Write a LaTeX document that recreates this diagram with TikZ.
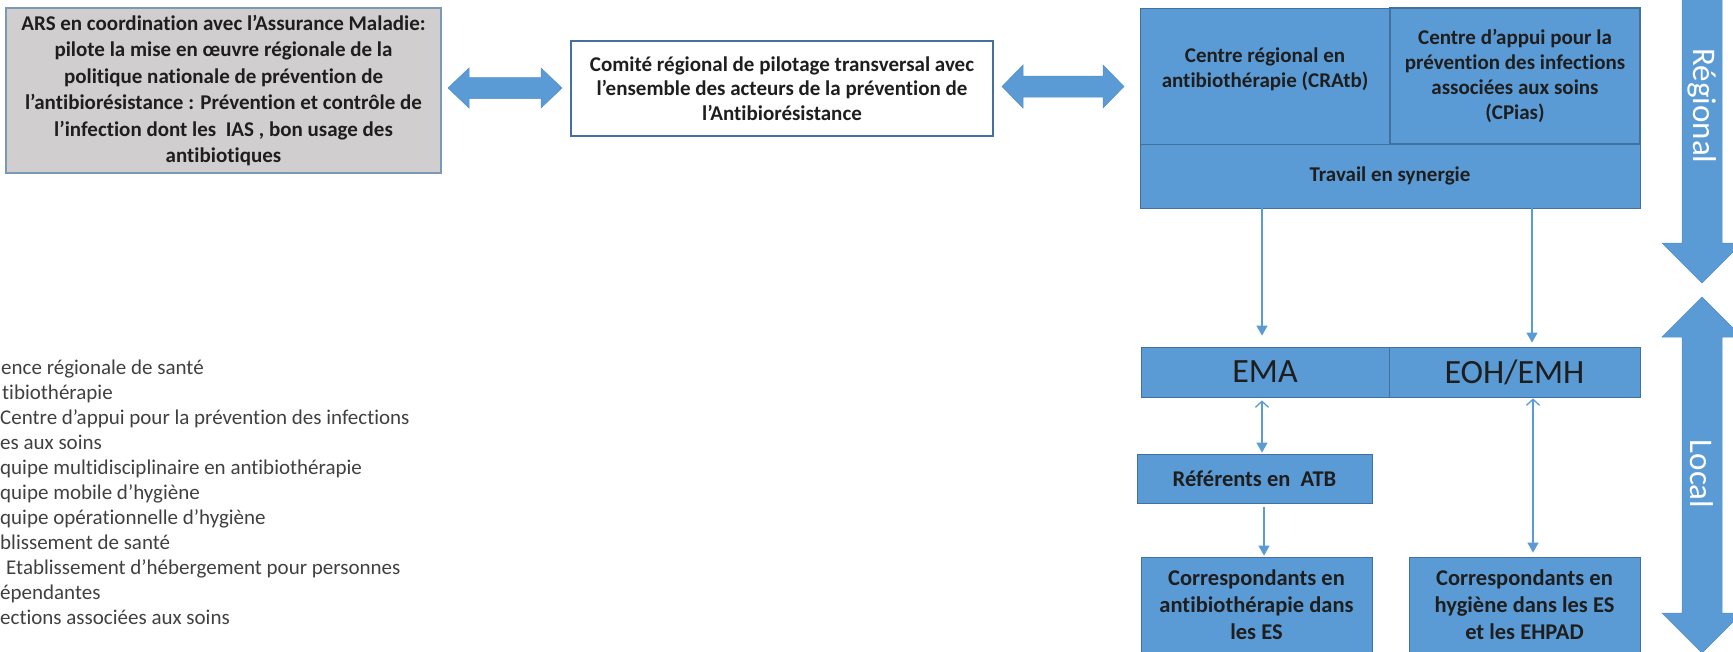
\documentclass[tikz,border=0pt]{standalone}
\usepackage{fontspec}
\setmainfont{Carlito}[Ligatures=NoCommon]
\usetikzlibrary{arrows.meta,calc}
\definecolor{boxblue}{HTML}{5B9BD5}
\definecolor{edgeblue}{HTML}{41719C}
\definecolor{arsgray}{HTML}{D0CECE}
\definecolor{arsedge}{HTML}{7A98B8}
\definecolor{txt}{HTML}{1E1E1E}
\definecolor{legtxt}{HTML}{404040}
\begin{document}
\begin{tikzpicture}[x=1pt,y=-1pt,
  cell/.style={draw=edgeblue, line width=0.8pt, fill=boxblue, inner sep=0pt, align=center, text=txt},
  btxt/.style={font=\fontsize{21}{25}\selectfont\bfseries},
  bigtxt/.style={font=\fontsize{22.5}{27}\selectfont\bfseries},
  acrtxt/.style={font=\fontsize{34}{40}\selectfont},
  sidetxt/.style={font=\fontsize{33}{38}\selectfont, text=white, rotate=-90, inner sep=0pt},
  legend/.style={font=\fontsize{21}{25}\selectfont, text=legtxt, inner sep=0pt},
  blockarrow/.style={fill=boxblue, draw=boxblue!92!black, line width=0.5pt},
  conn/.style={draw=boxblue, line width=1.3pt},
  tipfull/.tip={Triangle[width=11pt,length=10pt]},
  tipopen/.tip={Straight Barb[width=13pt,length=6pt]}
]
\useasboundingbox (0,0) rectangle (1733,651);
\begin{scope}
\clip (0,0) rectangle (1733,651);

% ARS box
\node[draw=arsedge, line width=1.3pt, fill=arsgray, minimum width=435, minimum height=165,
      inner sep=0pt, align=center, text=txt, font=\fontsize{21}{26.4}\selectfont\bfseries]
  (ars) at (223.5,90.5)
  {ARS en coordination avec l’Assurance Maladie:\\
   pilote la mise en œuvre régionale de la\\
   politique nationale de prévention de\\
   l’antibiorésistance : Prévention et contrôle de\\
   l’infection dont les\ \ IAS , bon usage des\\
   antibiotiques};

% Comite box
\node[draw=edgeblue, line width=1.1pt, fill=white, minimum width=422, minimum height=95,
      inner sep=0pt, align=center, text=txt, font=\fontsize{21}{24.5}\selectfont\bfseries]
  (comite) at (782,88.5)
  {Comité régional de pilotage transversal avec\\
   l’ensemble des acteurs de la prévention de\\
   l’Antibiorésistance};

% big horizontal double arrows
\path[blockarrow] (448,88) -- (469,68) -- (469,77.5) -- (541,77.5) -- (541,68) -- (562,88)
  -- (541,108) -- (541,98.5) -- (469,98.5) -- (469,108) -- cycle;
\path[blockarrow] (1002,86.5) -- (1023,65) -- (1023,76) -- (1103,76) -- (1103,65) -- (1124,86.5)
  -- (1103,108) -- (1103,97) -- (1023,97) -- (1023,108) -- cycle;

% regional block
\node[cell, minimum width=250, minimum height=136] (cratb) at (1265,76) {};
\node[btxt, align=center, text=txt, inner sep=0pt] (cratbtxt) at (1265,69)
  {Centre régional en\\ antibiothérapie (CRAtb)};
\node[cell, btxt, minimum width=250, minimum height=136, line width=1.1pt] (cpias) at (1515,76)
  {Centre d’appui pour la\\ prévention des infections\\ associées aux soins\\ (CPias)};
\node[cell, btxt, minimum width=500, minimum height=64] (travail) at (1390,176)
  {Travail en synergie};

% local boxes
\node[cell, acrtxt, minimum width=248, minimum height=50] (ema) at (1265,372) {EMA};
\node[cell, acrtxt, minimum width=251, minimum height=50] (eoh) at (1514.5,372) {EOH/EMH};
\node[cell, bigtxt, minimum width=235, minimum height=49] (ref) at (1254.5,478.5)
  {Référents en\ \ ATB};
\node[cell, bigtxt, minimum width=231, minimum height=96] (corrA) at (1256.5,605)
  {Correspondants en\\ antibiothérapie dans\\ les ES};
\node[cell, bigtxt, minimum width=231, minimum height=96] (corrH) at (1524.5,605)
  {Correspondants en\\ hygiène dans les ES\\ et les EHPAD};

% connectors
\draw[conn, -tipfull, shorten >=11pt] ([xshift=-3pt]ema.north |- travail.south) -- ([xshift=-3pt]ema.north);
\draw[conn, -tipfull, shorten >=4pt] ([xshift=17.5pt]eoh.north |- travail.south) -- ([xshift=17.5pt]eoh.north);
\draw[conn, tipopen-tipfull, shorten <=3pt, shorten >=1pt] ([xshift=-3pt]ema.south) -- ([xshift=-3pt]ema.south |- ref.north);
\draw[conn, -tipfull, shorten <=4pt, shorten >=1pt] ([xshift=-1pt]ema.south |- ref.south) -- ([xshift=-1pt]ema.south |- corrA.north);
\draw[conn, tipopen-tipfull, shorten <=1pt, shorten >=4pt] ([xshift=18.5pt]eoh.south) -- ([xshift=18.5pt]eoh.south |- corrH.north);

% side arrows
\path[blockarrow] (1682,-5) -- (1722,-5) -- (1722,243) -- (1742,243) -- (1702,283) -- (1662,243) -- (1682,243) -- cycle;
\path[blockarrow] (1702,297) -- (1742,337) -- (1722,337) -- (1722,613) -- (1742,613) -- (1702,653)
  -- (1662,613) -- (1682,613) -- (1682,337) -- (1662,337) -- cycle;
\node[sidetxt] (regional) at (1702,106) {Régional};
\node[sidetxt] (local) at (1702,474) {Local};

% legend (cropped at left in the reference)
\foreach \i/\xx/\t in {1/1/{ence régionale de santé},
  2/2/{tibiothérapie},
  3/0/{Centre d’appui pour la prévention des infections},
  4/0/{es aux soins},
  5/0/{quipe multidisciplinaire en antibiothérapie},
  6/0/{quipe mobile d’hygiène},
  7/0/{quipe opérationnelle d’hygiène},
  8/0/{blissement de santé},
  9/6/{Etablissement d’hébergement pour personnes},
  10/0/{épendantes},
  11/0/{ections associées aux soins}}
  {\node[legend, anchor=base west] (leg\i) at (\xx,{374+25*(\i-1)}) {\t};}
\end{scope}
\end{tikzpicture}
\end{document}
